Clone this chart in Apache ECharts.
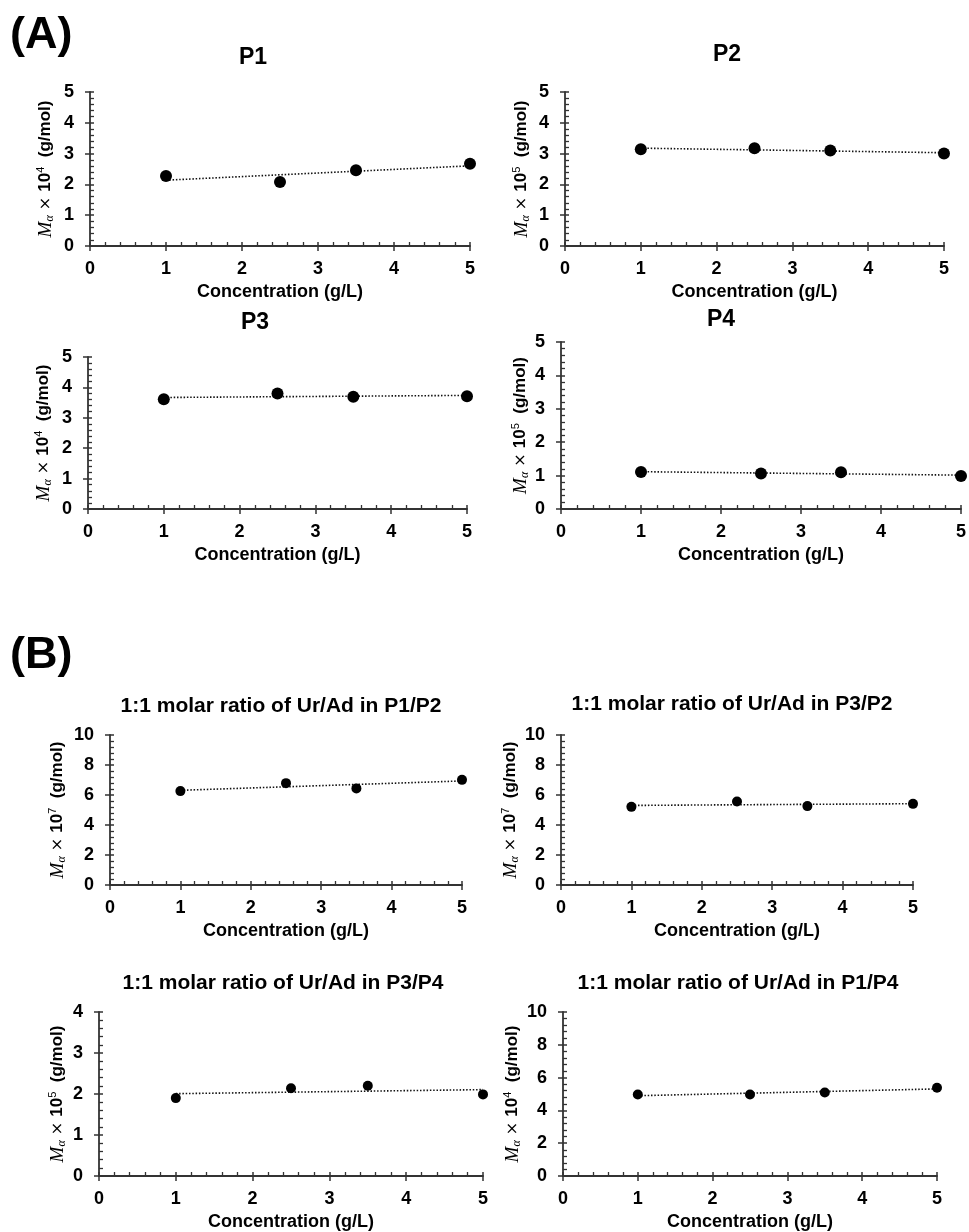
<!DOCTYPE html>
<html>
<head>
<meta charset="utf-8">
<title>Apparent molar mass vs concentration</title>
<script src="https://cdn.jsdelivr.net/npm/echarts@6/dist/echarts.min.js"></script>
<style>
  html, body { margin: 0; padding: 0; background: #fff; }
  #chart { width: 969px; height: 1232px; }
</style>
</head>
<body>
<div id="chart"></div>
<script>
// Concentration levels (g/L) shared by all samples
const concentration = [1, 2.5, 3.5, 5];

// Apparent molar mass, in units of the exponent shown on each y axis
const p1 = [2.27, 2.08, 2.46, 2.67];      // x 10^4
const p2 = [3.14, 3.17, 3.10, 3.00];      // x 10^5
const p3 = [3.61, 3.80, 3.69, 3.71];      // x 10^4
const p4 = [1.11, 1.06, 1.10, 0.99];      // x 10^5
const p1p2 = [6.26, 6.79, 6.44, 7.01];    // x 10^7
const p3p2 = [5.21, 5.57, 5.26, 5.41];    // x 10^7
const p3p4 = [1.90, 2.14, 2.20, 1.99];    // x 10^5
const p1p4 = [4.97, 4.97, 5.09, 5.38];    // x 10^4

const panelTitles = ['P1', 'P2', 'P3', 'P4',
  '1:1 molar ratio of Ur/Ad in P1/P2', '1:1 molar ratio of Ur/Ad in P3/P2',
  '1:1 molar ratio of Ur/Ad in P3/P4', '1:1 molar ratio of Ur/Ad in P1/P4'];
const exponents = [4, 5, 4, 5, 7, 7, 5, 4];
const yMax = [5, 5, 5, 5, 10, 10, 4, 10];
const yStep = [1, 1, 1, 1, 2, 2, 1, 2];
const xTickLabels = ['0', '1', '2', '3', '4', '5'];
const seriesData = [p1, p2, p3, p4, p1p2, p3p2, p3p4, p1p4];

const FONT = "'Liberation Sans', Arial, sans-serif";
const AXIS_COLOR = '#333';

// plot areas
const grids = [
  { left: 90,  top: 92,   width: 380, height: 154 },
  { left: 565, top: 92,   width: 379, height: 154 },
  { left: 88,  top: 357,  width: 379, height: 152 },
  { left: 561, top: 342,  width: 401, height: 167 },
  { left: 110, top: 735,  width: 352, height: 150 },
  { left: 561, top: 735,  width: 352, height: 150 },
  { left: 99,  top: 1012, width: 384, height: 164 },
  { left: 563, top: 1012, width: 374, height: 165 }
];
const yNameGaps = [34, 33, 34, 30, 42, 40, 31, 38];
const titlePos = [[253, 58], [727, 55], [255, 323], [721, 320],
  [281, 706], [732, 704], [283, 983], [738, 983]];
const titleSize = [23, 23, 23, 23, 21, 21, 21, 21];
const symbolSizes = [12, 12, 12, 12, 10, 10, 10, 10];

// least-squares line through one panel's points, evaluated at the ends
function trend(xs, ys) {
  const n = xs.length;
  const mx = xs.reduce((a, b) => a + b, 0) / n;
  const my = ys.reduce((a, b) => a + b, 0) / n;
  let sxy = 0, sxx = 0;
  for (let i = 0; i < n; i++) {
    sxy += (xs[i] - mx) * (ys[i] - my);
    sxx += (xs[i] - mx) * (xs[i] - mx);
  }
  const k = sxy / sxx, b = my - k * mx;
  const x0 = xs[0], x1 = xs[n - 1];
  return [[x0, k * x0 + b], [x1, k * x1 + b]];
}

const yNameRich = {
  m: { fontFamily: "'Liberation Serif', 'DejaVu Serif', serif", fontStyle: 'italic', fontSize: 19, fontWeight: 'normal', color: '#000' },
  a: { fontFamily: "'Liberation Serif', 'DejaVu Serif', serif", fontStyle: 'italic', fontSize: 12, fontWeight: 'normal', color: '#000', padding: [9, 0, 0, 0] },
  x: { fontFamily: "'DejaVu Sans', sans-serif", fontSize: 16, fontWeight: 'normal', color: '#000' },
  t: { fontFamily: FONT, fontSize: 17, fontWeight: 'bold', color: '#000' },
  s: { fontFamily: FONT, fontSize: 11, fontWeight: 'normal', color: '#000', padding: [0, 0, 10, 0] }
};

const tickLine = { color: AXIS_COLOR, width: 1.5 };

// main axes: line, labels, outward major ticks, inward minor ticks
const mainX = grids.map((g, i) => ({
  gridIndex: i,
  type: 'value',
  position: 'bottom',
  min: 0, max: 5, interval: 1,
  name: 'Concentration (g/L)',
  nameLocation: 'middle',
  nameGap: 37,
  nameTextStyle: { fontFamily: FONT, fontWeight: 'bold', fontSize: 18, color: '#000' },
  axisLine: { show: true, onZero: false, lineStyle: { color: AXIS_COLOR, width: 1.8 } },
  axisTick: { show: true, inside: false, length: 5, lineStyle: tickLine },
  minorTick: { show: true, splitNumber: 5, length: -4, lineStyle: { color: AXIS_COLOR, width: 1.3 } },
  splitLine: { show: false },
  axisLabel: {
    fontFamily: FONT, fontWeight: 'bold', fontSize: 18, color: '#000', margin: 14,
    formatter: v => xTickLabels[Math.round(v)]
  }
}));
const mainY = grids.map((g, i) => ({
  gridIndex: i,
  type: 'value',
  position: 'left',
  min: 0, max: yMax[i], interval: yStep[i],
  name: '{m|M}{a|α}{x| × }{t|10}{s|' + exponents[i] + '}{t|  (g/mol)}',
  nameLocation: 'middle',
  nameGap: yNameGaps[i],
  nameTextStyle: { rich: yNameRich },
  axisLine: { show: true, onZero: false, lineStyle: { color: AXIS_COLOR, width: 1.8 } },
  axisTick: { show: true, inside: false, length: 5, lineStyle: tickLine },
  minorTick: { show: true, splitNumber: 5, length: -4, lineStyle: { color: AXIS_COLOR, width: 1.3 } },
  splitLine: { show: false },
  axisLabel: { fontFamily: FONT, fontWeight: 'bold', fontSize: 18, color: '#000', margin: 16 }
}));

// companion axes on the same edges, adding the inner half of each major tick
const crossX = grids.map((g, i) => ({
  gridIndex: i, type: 'value', position: 'bottom',
  min: 0, max: 5, interval: 1,
  axisLine: { show: false, onZero: false }, axisLabel: { show: false }, splitLine: { show: false },
  axisTick: { show: true, inside: true, length: 4, lineStyle: tickLine }
}));
const crossY = grids.map((g, i) => ({
  gridIndex: i, type: 'value', position: 'left',
  min: 0, max: yMax[i], interval: yStep[i],
  axisLine: { show: false, onZero: false }, axisLabel: { show: false }, splitLine: { show: false },
  axisTick: { show: true, inside: true, length: 4, lineStyle: tickLine }
}));

const option = {
  animation: false,
  backgroundColor: '#fff',
  grid: grids.map(g => Object.assign({ containLabel: false }, g)),
  xAxis: mainX.concat(crossX),
  yAxis: mainY.concat(crossY),
  series: [].concat(...seriesData.map((ys, i) => [
    {
      type: 'line',
      xAxisIndex: i, yAxisIndex: i,
      data: trend(concentration, ys),
      symbol: 'none',
      lineStyle: { color: '#111', width: 1.6, type: [1.5, 1.8] },
      silent: true, z: 2
    },
    {
      type: 'scatter',
      xAxisIndex: i, yAxisIndex: i,
      data: concentration.map((c, j) => [c, ys[j]]),
      symbol: 'circle',
      symbolSize: symbolSizes[i],
      itemStyle: { color: '#000', opacity: 1 },
      z: 3
    }
  ])),
  graphic: [
    { type: 'text', x: 10, y: 36, style: { text: '(A)', font: "bold 45px 'Liberation Sans', Arial, sans-serif", fill: '#000', textVerticalAlign: 'middle' } },
    { type: 'text', x: 10, y: 656, style: { text: '(B)', font: "bold 45px 'Liberation Sans', Arial, sans-serif", fill: '#000', textVerticalAlign: 'middle' } }
  ].concat(panelTitles.map((t, i) => ({
    type: 'text',
    x: titlePos[i][0], y: titlePos[i][1],
    style: {
      text: t,
      font: 'bold ' + titleSize[i] + "px 'Liberation Sans', Arial, sans-serif",
      fill: '#000', textAlign: 'center', textVerticalAlign: 'middle'
    }
  })))
};

const chart = echarts.init(document.getElementById('chart'), null, { renderer: 'canvas' });
chart.setOption(option);
</script>
</body>
</html>
